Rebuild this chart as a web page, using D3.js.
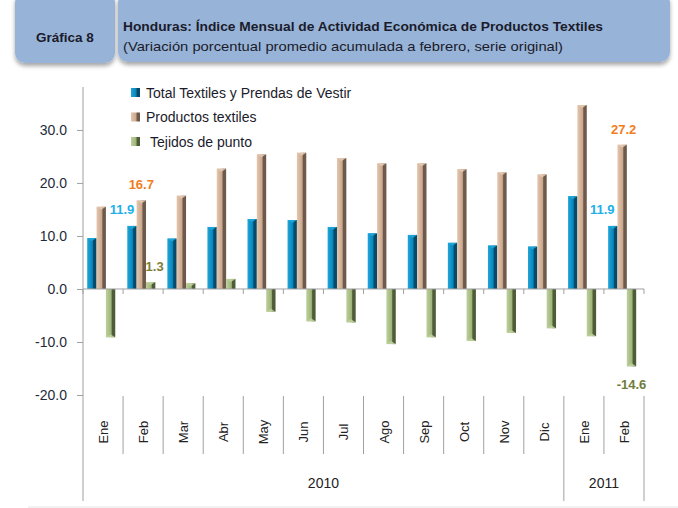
<!DOCTYPE html>
<html>
<head>
<meta charset="utf-8">
<script src="https://cdn.jsdelivr.net/npm/d3@7"></script>
<style>
  body { margin: 0; background: #fff; }
  svg { display: block; font-family: "Liberation Sans", "DejaVu Sans", sans-serif; }
</style>
</head>
<body>
<svg id="chart" width="678" height="508"></svg>
<script>
// month categories and years
var months = ["Ene", "Feb", "Mar", "Abr", "May", "Jun", "Jul", "Ago", "Sep", "Oct", "Nov", "Dic", "Ene", "Feb"];
var years = [{ label: "2010", from: 0, to: 12 }, { label: "2011", from: 12, to: 14 }];

// series values
var totalTextiles = [9.6, 11.9, 9.5, 11.7, 13.2, 13.0, 11.7, 10.5, 10.2, 8.7, 8.2, 8.0, 17.5, 11.9];
var productosTextiles = [15.5, 16.7, 17.6, 22.7, 25.4, 25.7, 24.7, 23.7, 23.7, 22.6, 22.0, 21.6, 34.7, 27.2];
var tejidosPunto = [-9.1, 1.3, 1.1, 1.9, -4.3, -6.1, -6.3, -10.4, -9.1, -9.8, -8.3, -7.4, -8.9, -14.6];

var seriesNames = ["Total Textiles y Prendas  de Vestir", "Productos textiles", "Tejidos de punto"];
var yTicks = [-20, -10, 0, 10, 20, 30];

var svg = d3.select("#chart");
var defs = svg.append("defs");

// colours for the 3D-ish bars: light, main, dark
var palette = [
  { id: "gBlue", light: "#1fa6d8", main: "#0a86bd", dark: "#054a6a" },
  { id: "gBrown", light: "#e3c6ae", main: "#cba88e", dark: "#6e5a4c" },
  { id: "gGreen", light: "#bdd09a", main: "#9fb57c", dark: "#4f5c38" }
];
palette.forEach(function(p) {
  var g = defs.append("linearGradient").attr("id", p.id).attr("x1", 0).attr("x2", 1).attr("y1", 0).attr("y2", 0);
  g.append("stop").attr("offset", "0%").attr("stop-color", p.light);
  g.append("stop").attr("offset", "55%").attr("stop-color", p.main);
  g.append("stop").attr("offset", "68%").attr("stop-color", p.dark);
  g.append("stop").attr("offset", "100%").attr("stop-color", p.dark);
});

var shadow = defs.append("filter").attr("id", "shadow").attr("x", "-10%").attr("y", "-10%").attr("width", "120%").attr("height", "140%");
shadow.append("feDropShadow").attr("dx", 0).attr("dy", 3).attr("stdDeviation", 2).attr("flood-color", "#000").attr("flood-opacity", 0.35);

// ---- header boxes
svg.append("rect").attr("x", 15).attr("y", -8).attr("width", 100).attr("height", 71)
   .attr("rx", 10).attr("fill", "#97b4d8").attr("filter", "url(#shadow)");
svg.append("rect").attr("x", 118).attr("y", -8).attr("width", 552).attr("height", 70)
   .attr("rx", 10).attr("fill", "#97b4d8").attr("filter", "url(#shadow)");

svg.append("text").attr("x", 65).attr("y", 42).attr("text-anchor", "middle")
   .attr("font-size", 13.5).attr("font-weight", "bold").attr("fill", "#1b1b2b")
   .text("Gráfica 8");
svg.append("text").attr("x", 123).attr("y", 31)
   .attr("font-size", 13).attr("font-weight", "bold").attr("fill", "#1b1b2b")
   .attr("textLength", 480).attr("lengthAdjust", "spacingAndGlyphs")
   .text("Honduras: Índice Mensual de Actividad Económica de Productos  Textiles");
svg.append("text").attr("x", 123).attr("y", 51)
   .attr("font-size", 13).attr("fill", "#1b1b2b")
   .attr("textLength", 440).attr("lengthAdjust", "spacingAndGlyphs")
   .text("(Variación porcentual promedio acumulada a febrero, serie original)");

// ---- scales
var left = 83, right = 644;
var x0 = d3.scaleBand().domain(d3.range(months.length)).range([left, right])
           .paddingInner(0.3).paddingOuter(0.15).align(0.35);
var x1 = d3.scaleBand().domain([0, 1, 2]).range([0, x0.bandwidth()]).padding(0);
var y = d3.scaleLinear().domain([-20, 38.1]).range([395, 87]);
var step = (right - left) / months.length;

var axisColor = "#a0a0a0";
var textColor = "#1f2a3a";

// ---- y axis
var yAxis = d3.axisLeft(y).tickValues(yTicks).tickSize(6).tickPadding(10)
              .tickFormat(function(d) { return d.toFixed(1); });
var yg = svg.append("g").attr("transform", "translate(" + left + ",0)").call(yAxis);
yg.select(".domain").remove();
yg.selectAll("line").attr("stroke", axisColor);
yg.selectAll("text").attr("font-size", 14).attr("fill", textColor);
svg.append("line").attr("x1", left).attr("x2", left).attr("y1", 87).attr("y2", 501).attr("stroke", axisColor);

// ---- bars
var allSeries = [totalTextiles, productosTextiles, tejidosPunto];
allSeries.forEach(function(vals, si) {
  var p = palette[si];
  var g = svg.append("g");
  g.selectAll("rect").data(vals).enter().append("rect")
    .attr("x", function(d, i) { return x0(i) + x1(si); })
    .attr("y", function(d) { return y(Math.max(0, d)); })
    .attr("width", x1.bandwidth())
    .attr("height", function(d) { return Math.abs(y(d) - y(0)); })
    .attr("fill", "url(#" + p.id + ")");
  // bevel cap at the bar end
  g.selectAll("path").data(vals).enter().append("path")
    .attr("d", function(d, i) {
      var bx = x0(i) + x1(si), w = x1.bandwidth(), ey = y(d);
      var dir = d >= 0 ? 1 : -1;
      return "M" + bx + "," + ey + "L" + (bx + w) + "," + ey + "L" + (bx + w / 2) + "," + (ey + dir * 3) + "Z";
    })
    .attr("fill", p.light).attr("opacity", 0.9);
});

// ---- category axis at zero
svg.append("line").attr("x1", left).attr("x2", right).attr("y1", y(0)).attr("y2", y(0)).attr("stroke", axisColor);
svg.selectAll(".ztick").data(d3.range(months.length + 1)).enter().append("line")
   .attr("x1", function(i) { return left + i * step; })
   .attr("x2", function(i) { return left + i * step; })
   .attr("y1", y(0)).attr("y2", y(0) + 5).attr("stroke", axisColor);

// label separators
svg.selectAll(".msep").data(d3.range(1, months.length + 1)).enter().append("line")
   .attr("x1", function(i) { return left + i * step; })
   .attr("x2", function(i) { return left + i * step; })
   .attr("y1", 396)
   .attr("y2", function(i) { return (i === 12 || i === 14) ? 501 : 454; })
   .attr("stroke", axisColor);

// month labels
svg.selectAll(".mlab").data(months).enter().append("text")
   .attr("transform", function(d, i) { return "translate(" + (left + (i + 0.5) * step + 5) + ",432) rotate(-90)"; })
   .attr("text-anchor", "middle").attr("font-size", 13).attr("fill", "#222")
   .text(function(d) { return d; });

// year labels
svg.selectAll(".ylab").data(years).enter().append("text")
   .attr("x", function(d) { return left + (d.from + d.to) / 2 * step; })
   .attr("y", 488).attr("text-anchor", "middle").attr("font-size", 14).attr("fill", "#222")
   .text(function(d) { return d.label; });

// bottom faint line
svg.append("line").attr("x1", 28).attr("x2", 678).attr("y1", 507).attr("y2", 507).attr("stroke", "#e4e4e4");

// ---- data labels
var labels = [
  { s: 0, i: 1, color: "#21b0ea", dx: -10, dy: -12 },
  { s: 1, i: 1, color: "#f07d22", dx: 0, dy: -11.5 },
  { s: 2, i: 1, color: "#7d7d35", dx: 4, dy: -11 },
  { s: 0, i: 13, color: "#21b0ea", dx: -10.5, dy: -12 },
  { s: 1, i: 13, color: "#f07d22", dx: 1.5, dy: -11 },
  { s: 2, i: 13, color: "#6f7d3a", dx: 0, dy: 22.5 }
];
svg.selectAll(".dlab").data(labels).enter().append("text")
   .attr("x", function(d) { return x0(d.i) + x1(d.s) + x1.bandwidth() / 2 + d.dx; })
   .attr("y", function(d) { return y(allSeries[d.s][d.i]) + d.dy; })
   .attr("text-anchor", "middle").attr("font-size", 13).attr("font-weight", "bold")
   .attr("fill", function(d) { return d.color; })
   .text(function(d) { return allSeries[d.s][d.i].toFixed(1); });

// ---- legend
var legend = svg.append("g").attr("transform", "translate(131,88)");
seriesNames.forEach(function(name, k) {
  var row = legend.append("g").attr("transform", "translate(0," + (k * 24.5) + ")");
  row.append("rect").attr("width", 9).attr("height", 9).attr("fill", "url(#" + palette[k].id + ")");
  row.append("text").attr("x", k === 2 ? 19 : 15).attr("y", 9.5).attr("font-size", 14).attr("fill", "#1b1b2b")
     .text(name);
});
</script>
</body>
</html>
